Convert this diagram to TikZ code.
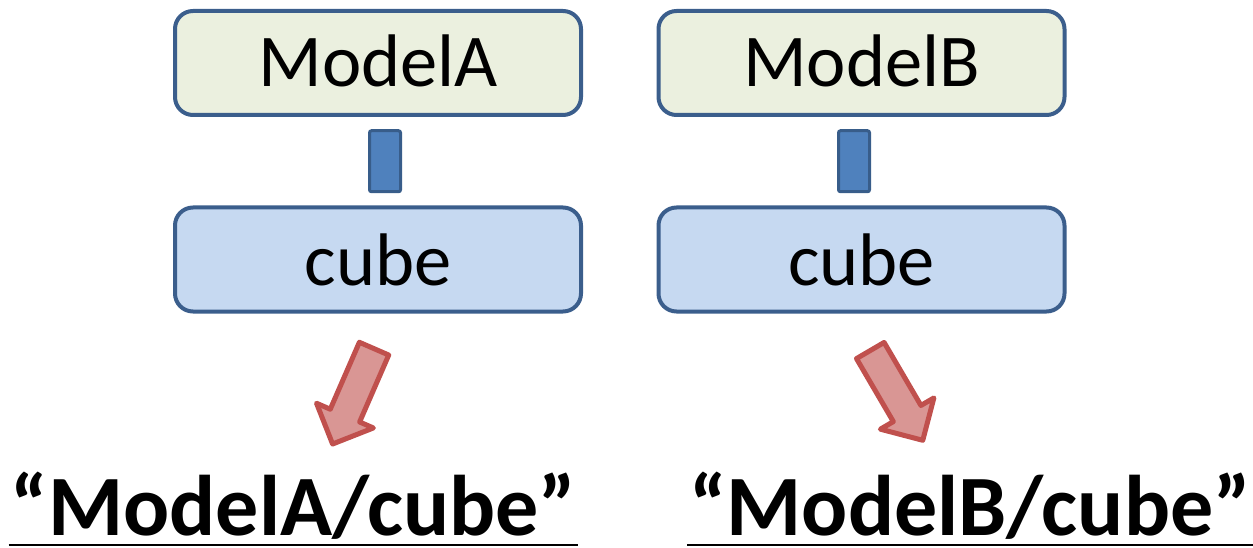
\documentclass[tikz,border=0pt]{standalone}
\usepackage{fontspec}
\setmainfont{Carlito}
\usetikzlibrary{calc,shapes.arrows}

\definecolor{boxline}{HTML}{3B5E8C}
\definecolor{modelfill}{HTML}{EBF0DF}
\definecolor{cubefill}{HTML}{C6D9F1}
\definecolor{linkfill}{HTML}{4F81BD}
\definecolor{linkline}{HTML}{385D8A}
\definecolor{arrowfill}{HTML}{D99694}
\definecolor{arrowline}{HTML}{C0504D}

\tikzset{
  modelbox/.style={draw=boxline, line width=4pt, rounded corners=18pt,
    fill=modelfill, minimum width=406pt, minimum height=104pt, inner sep=0pt,
    font=\fontsize{74.5}{74.5}\selectfont, text height=48pt, text depth=0pt},
  cubebox/.style={modelbox, fill=cubefill, text height=51pt},
  linkbar/.style={draw=linkline, line width=3pt, rounded corners=2pt,
    fill=linkfill, minimum width=31pt, minimum height=61pt, inner sep=0pt},
  blockarrow/.style={single arrow, draw=arrowline, fill=arrowfill,
    line width=5pt, line join=round, inner xsep=0pt, inner ysep=13.5pt,
    single arrow head extend=15pt, minimum height=104pt},
  pathlabel/.style={font=\fontsize{86}{86}\selectfont\bfseries,
    inner xsep=2pt, inner ysep=0pt, anchor=base, text depth=0pt},
  underline/.style={line width=2pt, black}
}

\begin{document}
\begin{tikzpicture}[x=1pt, y=-1pt]
  \useasboundingbox (0,0) rectangle (1253,548);

  % model boxes and their child nodes
  \node[modelbox] (ma) at (378,63) {ModelA};
  \node[cubebox]  (ca) at (378,259.5) {cube};
  \node[modelbox] (mb) at (861.5,63) {ModelB};
  \node[cubebox]  (cb) at (861.5,259.5) {cube};

  % parent-child links
  \node[linkbar] (la) at ($(ma.south)!0.5!(ca.north)+(7,0)$) {};
  \node[linkbar] (lb) at ($(mb.south)!0.5!(cb.north)+(-7.5,0)$) {};

  % block arrows toward the resulting paths
  \node[blockarrow, rotate=246.5] (aa) at ($(ca.south)+(-21.5,75.5)$) {};
  \node[blockarrow, rotate=300.3] (ab) at ($(cb.south)+(31,75)$) {};

  % resulting paths
  \node[pathlabel] (ta) at (293.5,535) {“ModelA/cube”};
  \node[pathlabel] (tb) at (970,535) {“ModelB/cube”};
  \draw[underline] ([yshift=-10pt]ta.base west) -- ([yshift=-10pt]ta.base east);
  \draw[underline] ([yshift=-10pt]tb.base west) -- ([yshift=-10pt]tb.base east);
\end{tikzpicture}
\end{document}
